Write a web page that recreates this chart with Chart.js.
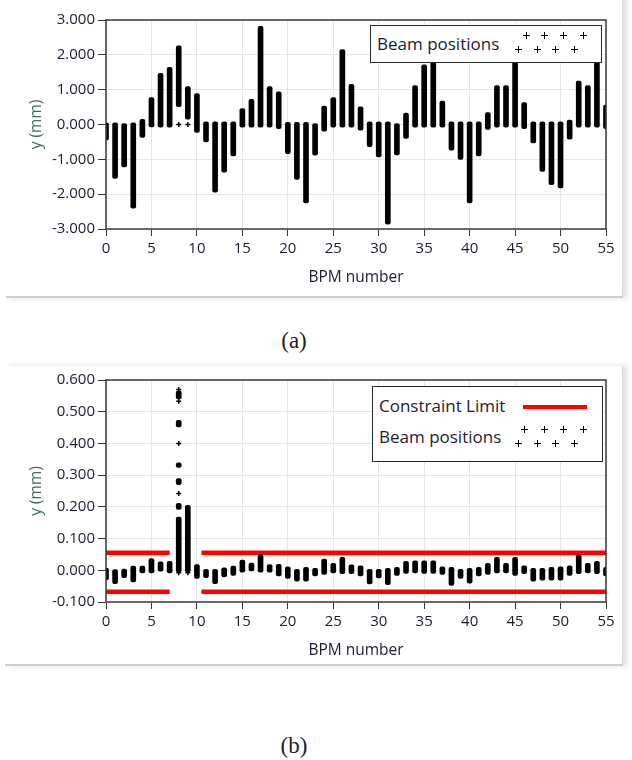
<!DOCTYPE html>
<html lang="en">
<head>
    <meta charset="UTF-8">
    <title>Beam positions per BPM</title>
    <script src="https://cdn.jsdelivr.net/npm/chart.js"></script>
    <style>
        body {
            margin: 0;
            width: 632px;
            height: 760px;
            background: #ffffff;
            position: relative;
            overflow: hidden;
            font-family: "Open Sans", sans-serif;
        }

        .panel {
            position: absolute;
            background: #ffffff;
            border-right: 1px solid #d8d8d8;
            border-bottom: 2px solid #cfcfcf;
            box-shadow: 4px 0 5px rgba(0,0,0,0.12);
        }

        canvas {
            position: absolute;
            left: 0;
        }

        .legend {
            position: absolute;
            background: #ffffff;
            border: 1.5px solid #2a2a2a;
            box-sizing: border-box;
            color: #1c1c30;
            font-size: 17px;
        }

        .legend .label {
            position: absolute;
            left: 6px;
            line-height: 20px;
            white-space: nowrap;
        }

        /* petit marqueur "+" */
        .plus {
            position: absolute;
            width: 7px;
            height: 7px;
        }
        .plus::before, .plus::after {
            content: "";
            position: absolute;
            background: #000;
        }
        .plus::before { left: 0; top: 3px; width: 7px; height: 1.3px; }
        .plus::after { left: 3px; top: 0; width: 1.3px; height: 7px; }

        .redline {
            position: absolute;
            height: 4px;
            background: #ff0000;
        }

        .caption {
            position: absolute;
            left: 244px;
            width: 100px;
            text-align: center;
            font-family: "Liberation Serif", serif;
            font-size: 23px;
            color: #222;
        }
    </style>
</head>
<body>
    <div class="panel" style="left:6px; top:-4px; width:616px; height:300px;"></div>
    <div class="panel" style="left:5px; top:366px; width:617px; height:298px;"></div>

    <canvas id="chartA" width="625" height="296" style="top:0;"></canvas>
    <canvas id="chartB" width="625" height="306" style="top:360px;"></canvas>

    <!-- legende graphique (a) -->
    <div class="legend" style="left:370px; top:25px; width:232px; height:38px;">
        <div class="label" style="top:8px;">Beam positions</div>
        <span class="plus" style="left:152px; top:6px;"></span>
        <span class="plus" style="left:170px; top:6px;"></span>
        <span class="plus" style="left:189px; top:6px;"></span>
        <span class="plus" style="left:209px; top:6px;"></span>
        <span class="plus" style="left:144px; top:20px;"></span>
        <span class="plus" style="left:163px; top:20px;"></span>
        <span class="plus" style="left:181px; top:20px;"></span>
        <span class="plus" style="left:200px; top:20px;"></span>
    </div>

    <!-- legende graphique (b) -->
    <div class="legend" style="left:372px; top:386px; width:231px; height:76px;">
        <div class="label" style="top:9px;">Constraint Limit</div>
        <div class="redline" style="left:150px; top:18px; width:64px;"></div>
        <div class="label" style="top:40px;">Beam positions</div>
        <span class="plus" style="left:148px; top:39px;"></span>
        <span class="plus" style="left:168px; top:39px;"></span>
        <span class="plus" style="left:187px; top:39px;"></span>
        <span class="plus" style="left:207px; top:39px;"></span>
        <span class="plus" style="left:142px; top:53px;"></span>
        <span class="plus" style="left:161px; top:53px;"></span>
        <span class="plus" style="left:179px; top:53px;"></span>
        <span class="plus" style="left:198px; top:53px;"></span>
    </div>

    <div class="caption" style="top:328px;">(a)</div>
    <div class="caption" style="top:733px;">(b)</div>

    <script>
        // Numéros des BPM
        const bpm = [0,1,2,3,4,5,6,7,8,9,10,11,12,13,14,15,16,17,18,19,20,21,22,23,24,25,26,27,
                     28,29,30,31,32,33,34,35,36,37,38,39,40,41,42,43,44,45,46,47,48,49,50,51,52,53,54,55];

        // (a) étendue des positions du faisceau par BPM (mm)
        const posALow = [-0.45,-1.55,-1.22,-2.40,-0.37,-0.07,-0.08,-0.08, 0.51, 0.15,-0.23,-0.50,-1.94,-1.37,
                         -0.90,-0.08,-0.08,-0.08,-0.08,-0.12,-0.84,-1.58,-2.25,-0.88,-0.19,-0.08,-0.08,-0.08,
                         -0.16,-0.64,-0.93,-2.86,-0.87,-0.40,-0.08,-0.08,-0.08,-0.08,-0.74,-1.00,-2.25,-0.90,
                         -0.14,-0.08,-0.08,-0.08,-0.12,-0.53,-1.35,-1.73,-1.82,-0.42,-0.08,-0.08,-0.08,-0.12];
        const posAHigh = [0.05, 0.05, 0.03, 0.05, 0.15, 0.77, 1.47, 1.64, 2.26, 1.09, 0.89, 0.08, 0.08, 0.08,
                          0.08, 0.46, 0.72, 2.82, 1.09, 0.94, 0.06, 0.06, 0.06, 0.03, 0.53, 0.77, 2.15, 1.15,
                          0.51, 0.08, 0.08, 0.08, 0.03, 0.33, 1.12, 1.71, 2.20, 0.67, 0.08, 0.08, 0.08, 0.08,
                          0.34, 1.12, 1.12, 1.90, 0.63, 0.08, 0.08, 0.08, 0.08, 0.13, 1.25, 1.12, 2.00, 0.56];
        // (a) positions isolées
        const isoAX = [8, 9];
        const isoAY = [0.0, 0.0];

        // (b) étendue des positions après correction (mm)
        const posBLow = [-0.030,-0.042,-0.023,-0.037,-0.008,-0.008,-0.003,-0.008,-0.005,-0.005,-0.026,-0.023,-0.042,-0.021,
                         -0.016,-0.006,-0.002,-0.006,-0.006,-0.018,-0.026,-0.034,-0.034,-0.018,-0.013,-0.008,-0.011,-0.011,
                         -0.018,-0.043,-0.024,-0.045,-0.016,-0.010,-0.008,-0.010,-0.010,-0.013,-0.048,-0.026,-0.041,-0.018,
                         -0.013,-0.008,-0.008,-0.016,-0.011,-0.034,-0.031,-0.031,-0.031,-0.016,-0.011,-0.008,-0.011,-0.018];
        const posBHigh = [0.007, 0.002, 0.004, 0.013, 0.013, 0.037, 0.027, 0.028, 0.168, 0.205, 0.018, 0.003, 0.003, 0.008,
                          0.013, 0.032, 0.023, 0.050, 0.018, 0.019, 0.011, 0.003, 0.009, 0.006, 0.035, 0.022, 0.041, 0.017,
                          0.014, 0.003, 0.003, 0.006, 0.009, 0.028, 0.030, 0.030, 0.030, 0.011, 0.009, 0.003, 0.006, 0.009,
                          0.022, 0.041, 0.022, 0.041, 0.014, 0.006, 0.006, 0.009, 0.011, 0.014, 0.049, 0.022, 0.028, 0.009];
        // (b) groupes de positions au BPM 8
        const clusterBX = [8, 8, 8, 8, 8];
        const clusterBLow = [0.192, 0.270, 0.324, 0.452, 0.540];
        const clusterBHigh = [0.211, 0.289, 0.339, 0.473, 0.566];
        // (b) positions isolées
        const isoBX = [8, 8, 8, 8, 8, 9];
        const isoBY = [0.242, 0.400, 0.533, 0.570, -0.008, -0.008];

        // (b) limites de contrainte
        const limitX = [0, 7, 8.75, 10.5, 55];
        const limitUpper = [0.055, 0.055, null, 0.055, 0.055];
        const limitLower = [-0.068, -0.068, null, -0.068, -0.068];

        const tickFont = { family: 'Open Sans', size: 15 };
        const tickColor = '#1c1c30';

        // Cadre autour de la zone de tracé
        const framePlugin = {
            id: 'frame',
            afterDraw(chart) {
                const { ctx, chartArea: a } = chart;
                ctx.save();
                ctx.strokeStyle = '#3a3a3a';
                ctx.lineWidth = 1.5;
                ctx.strokeRect(a.left, a.top, a.right - a.left, a.bottom - a.top);
                ctx.restore();
            }
        };

        function makeScales(yMin, yMax, yStep, xAxisHeight, titlePad) {
            return {
                x: {
                    type: 'linear',
                    min: 0,
                    max: 55,
                    offset: false,
                    afterFit: s => { s.height = xAxisHeight; },
                    ticks: { stepSize: 5, color: tickColor, font: tickFont, padding: 4, maxRotation: 0 },
                    grid: { offset: false, color: '#e6e6e6', tickColor: '#333', tickLength: 7 },
                    border: { display: false },
                    title: {
                        display: true,
                        text: 'BPM number',
                        color: tickColor,
                        font: { family: 'Open Sans', size: 15.5 },
                        padding: { top: 0, bottom: titlePad }
                    }
                },
                y: {
                    min: yMin,
                    max: yMax,
                    afterFit: s => { s.width = 106; },
                    ticks: {
                        stepSize: yStep,
                        color: tickColor,
                        font: tickFont,
                        padding: 3,
                        callback: v => (Math.abs(v) < 1e-9 ? 0 : v).toFixed(3)
                    },
                    grid: { color: '#e6e6e6', tickColor: '#333', tickLength: 8 },
                    border: { display: false },
                    title: {
                        display: true,
                        text: 'y (mm)',
                        color: '#3b6e5c',
                        font: { family: 'Open Sans', size: 15.5 },
                        padding: { top: 27, bottom: 0 }
                    }
                }
            };
        }

        const baseOptions = {
            responsive: false,
            animation: false,
            events: [],
            layout: { padding: { top: 20, right: 19, left: 0, bottom: 0 } },
            plugins: { legend: { display: false }, tooltip: { enabled: false } }
        };

        // Graphique (a)
        const spanA = bpm.map((b, i) => ({ x: b, y: [posALow[i], posAHigh[i]] }));
        new Chart(document.getElementById('chartA'), {
            type: 'bar',
            data: {
                datasets: [{
                    label: 'Beam positions',
                    data: spanA,
                    backgroundColor: '#000',
                    barThickness: 5,
                    borderRadius: 2,
                    borderSkipped: false,
                    grouped: false,
                    order: 0
                }, {
                    type: 'scatter',
                    label: 'Beam positions (isolated)',
                    data: isoAX.map((x, i) => ({ x: x, y: isoAY[i] })),
                    pointStyle: 'cross',
                    radius: 2.5,
                    borderColor: '#000',
                    borderWidth: 1.5,
                    order: 0
                }]
            },
            options: Object.assign({}, baseOptions, { scales: makeScales(-3, 3, 1, 67, 9) }),
            plugins: [framePlugin]
        });

        // Graphique (b)
        const spanB = bpm.map((b, i) => ({ x: b, y: [posBLow[i], posBHigh[i]] }))
            .concat(clusterBX.map((x, i) => ({ x: x, y: [clusterBLow[i], clusterBHigh[i]] })));
        new Chart(document.getElementById('chartB'), {
            type: 'bar',
            data: {
                datasets: [{
                    label: 'Beam positions',
                    data: spanB,
                    backgroundColor: '#000',
                    barThickness: 5,
                    borderRadius: 2,
                    borderSkipped: false,
                    grouped: false,
                    order: 0
                }, {
                    type: 'scatter',
                    label: 'Beam positions (isolated)',
                    data: isoBX.map((x, i) => ({ x: x, y: isoBY[i] })),
                    pointStyle: 'cross',
                    radius: 2.5,
                    borderColor: '#000',
                    borderWidth: 1.5,
                    order: 0
                }, {
                    type: 'line',
                    label: 'Constraint Limit',
                    data: limitX.map((x, i) => ({ x: x, y: limitUpper[i] })),
                    borderColor: '#ff0000',
                    borderWidth: 4.5,
                    pointRadius: 0,
                    spanGaps: false,
                    order: 2
                }, {
                    type: 'line',
                    label: 'Constraint Limit (lower)',
                    data: limitX.map((x, i) => ({ x: x, y: limitLower[i] })),
                    borderColor: '#ff0000',
                    borderWidth: 4.5,
                    pointRadius: 0,
                    spanGaps: false,
                    order: 2
                }]
            },
            options: Object.assign({}, baseOptions, { scales: makeScales(-0.1, 0.6, 0.1, 64, 6) }),
            plugins: [framePlugin]
        });
    </script>
</body>
</html>
